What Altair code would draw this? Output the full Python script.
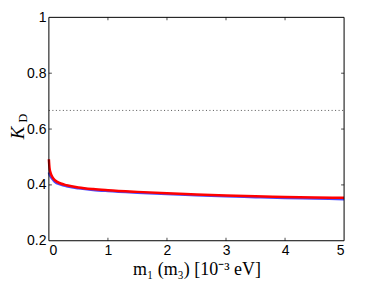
import altair as alt
import pandas as pd

x_vals = [0, 0.01, 0.03, 0.06, 0.1, 0.2, 0.3, 0.5, 0.75, 1, 1.5, 2, 2.5, 3, 3.5, 4, 4.5, 5]
red_vals = [0.492, 0.462, 0.442, 0.428, 0.417, 0.405, 0.399, 0.391, 0.385, 0.381, 0.375, 0.370, 0.366, 0.362, 0.359, 0.357, 0.355, 0.354]
blue_vals = [0.445, 0.438, 0.430, 0.421, 0.411, 0.401, 0.395, 0.388, 0.382, 0.378, 0.372, 0.367, 0.363, 0.359, 0.356, 0.353, 0.351, 0.349]
dotted_level = 2 / 3
x_ticks = [0, 1, 2, 3, 4, 5]
y_ticks = [0.2, 0.4, 0.6, 0.8, 1.0]

W, H = 296, 224

rows = []
for s, vals in (("blue", blue_vals), ("red", red_vals)):
    for xv, yv in zip(x_vals, vals):
        rows.append({"x": xv, "y": yv, "s": s})
df = pd.DataFrame(rows)

xs = alt.Scale(domain=[0, 5], nice=False)
ys = alt.Scale(domain=[0.2, 1.0], nice=False)

lab = dict(labelFont="Liberation Sans", labelFontSize=14, labelColor="black",
           tickSize=0, domain=False, grid=False, labelPadding=3)

base = alt.Chart(df)

lines = base.mark_line(strokeWidth=2.5, interpolate="monotone").encode(
    x=alt.X("x:Q", scale=xs, axis=alt.Axis(values=x_ticks, format="d",
            title="m₁ (m₃) [10⁻³ eV]", titleFont="Liberation Serif",
            titleFontSize=18, titleFontWeight="normal", titleColor="black",
            titlePadding=3, **lab)),
    y=alt.Y("y:Q", scale=ys, axis=alt.Axis(values=y_ticks, format="~g",
            title=None, **lab)),
    color=alt.Color("s:N", scale=alt.Scale(domain=["blue", "red"], range=["#4a4aff", "#ff0000"]), legend=None),
    order=alt.Order("s:N"),
)

dot_df = pd.DataFrame({"x": [0, 5], "y": [dotted_level, dotted_level]})
dotted = alt.Chart(dot_df).mark_line(color="#555555", strokeWidth=1, strokeDash=[1, 2.5]).encode(
    x=alt.X("x:Q", scale=xs), y=alt.Y("y:Q", scale=ys))

xt = pd.DataFrame({"x": x_ticks[1:-1]})
yt = pd.DataFrame({"y": y_ticks[1:-1]})
tb = alt.Chart(xt).mark_tick(orient="vertical", color="black", size=3, thickness=1).encode(
    x=alt.X("x:Q", scale=xs), y=alt.value(H - 1.5))
tt = alt.Chart(xt).mark_tick(orient="vertical", color="black", size=3, thickness=1).encode(
    x=alt.X("x:Q", scale=xs), y=alt.value(1.5))
tl = alt.Chart(yt).mark_tick(orient="horizontal", color="black", size=3, thickness=1).encode(
    y=alt.Y("y:Q", scale=ys), x=alt.value(1.5))
tr = alt.Chart(yt).mark_tick(orient="horizontal", color="black", size=3, thickness=1).encode(
    y=alt.Y("y:Q", scale=ys), x=alt.value(W - 1.5))

frame = alt.Chart(pd.DataFrame({"k": [0]})).mark_rect(
    fill=None, stroke="black", strokeWidth=1).encode(
    x=alt.value(0), x2=alt.value(W), y=alt.value(0), y2=alt.value(H))

kt = alt.Chart(pd.DataFrame({"t": ["K"]})).mark_text(
    font="Liberation Serif", fontStyle="italic", fontSize=19, angle=270,
    align="center", baseline="middle", color="black").encode(
    text="t:N", x=alt.value(-31), y=alt.value(116))
dt = alt.Chart(pd.DataFrame({"t": ["D"]})).mark_text(
    font="Liberation Serif", fontSize=12, angle=270,
    align="center", baseline="middle", color="black").encode(
    text="t:N", x=alt.value(-26), y=alt.value(101))

chart = alt.layer(dotted, lines, tb, tt, tl, tr, frame, kt, dt).properties(
    width=W, height=H, autosize="none",
    padding={"left": 41, "top": 9, "right": 30, "bottom": 46},
).configure_view(stroke=None)

chart.save("out.html", embed_options={"renderer": "svg", "actions": False})
